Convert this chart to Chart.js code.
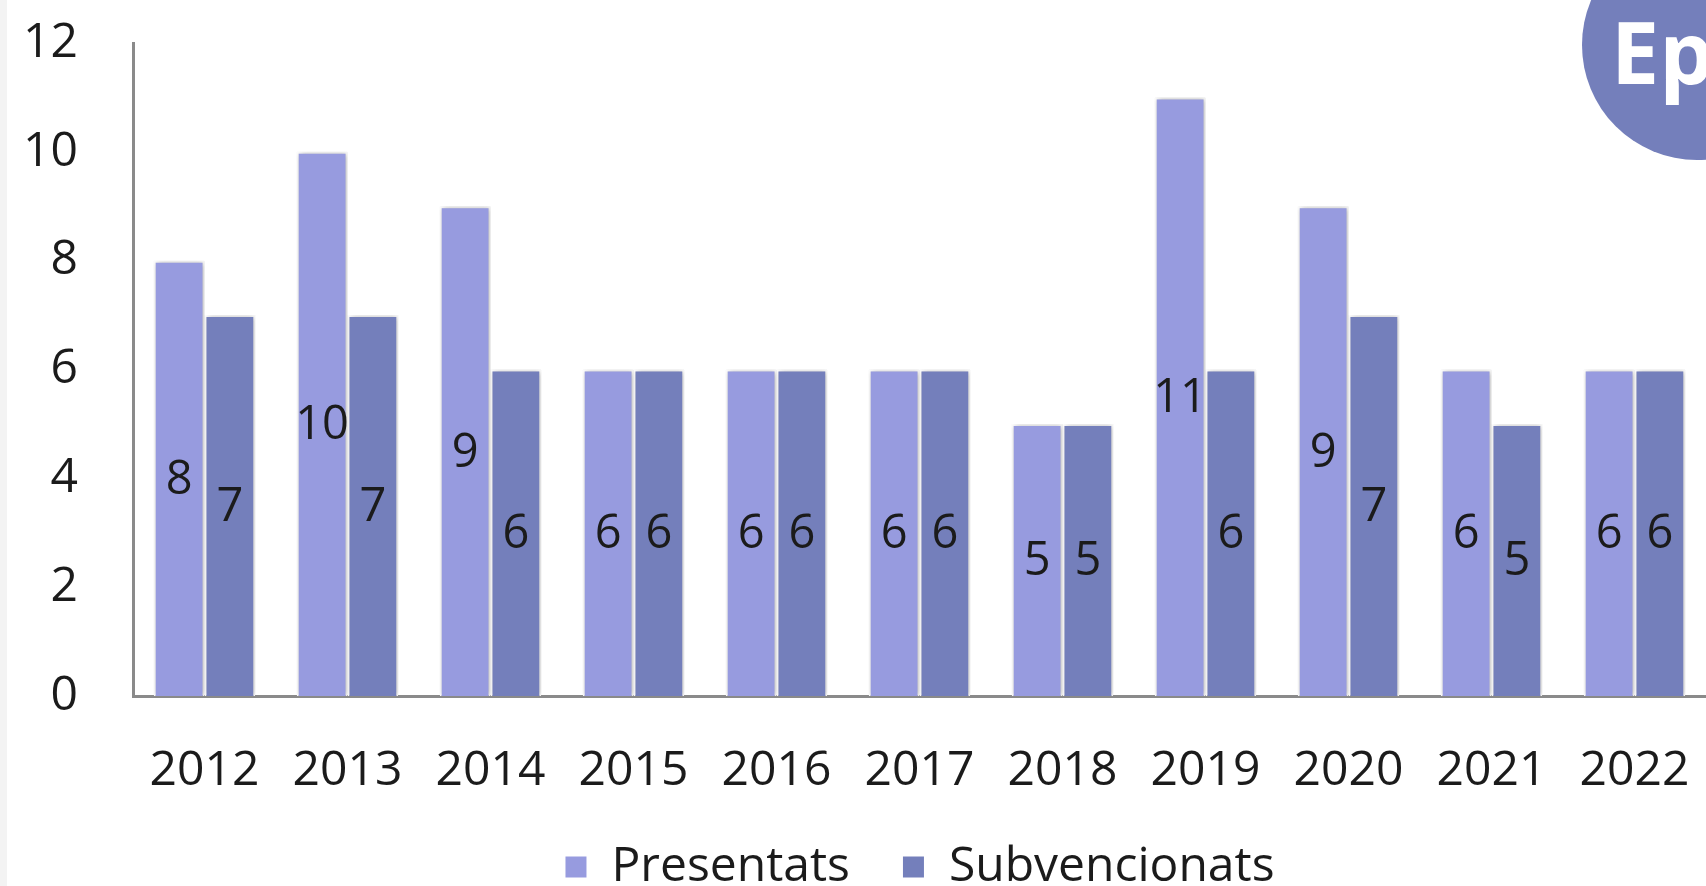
<!DOCTYPE html>
<html>
<head>
<meta charset="utf-8">
<script src="https://cdn.jsdelivr.net/npm/chart.js@4.4.0/dist/chart.umd.min.js"></script>
<style>
  html, body { margin: 0; padding: 0; background: #fff; }
  #wrap { width: 1706px; height: 886px; position: relative; }
</style>
</head>
<body>
<div id="wrap"><canvas id="barChart"></canvas></div>
<script>
var years = ["2012", "2013", "2014", "2015", "2016", "2017", "2018", "2019", "2020", "2021", "2022"];
var presentats = [8, 10, 9, 6, 6, 6, 5, 11, 9, 6, 6];
var subvencionats = [7, 7, 6, 6, 6, 6, 5, 6, 7, 5, 6];
var yTicks = [0, 2, 4, 6, 8, 10, 12];

var lightColor = 'rgb(151, 155, 223)';
var darkColor = 'rgb(116, 127, 187)';
var FONT = "'Open Sans', 'Liberation Sans', sans-serif";

// soft shadow behind bars, like the office chart
var barShadow = {
  id: 'barShadow',
  beforeDatasetsDraw: function (chart) {
    var ctx = chart.ctx;
    ctx.save();
    ctx.shadowColor = 'rgba(0,0,0,0.28)';
    ctx.shadowBlur = 6;
    ctx.shadowOffsetX = 1;
  },
  afterDatasetsDraw: function (chart) {
    chart.ctx.restore();
  }
};

// value labels centred inside each bar
var centreLabels = {
  id: 'centreLabels',
  afterDatasetsDraw: function (chart) {
    var ctx = chart.ctx;
    ctx.save();
    ctx.font = '47px ' + FONT;
    ctx.fillStyle = '#1b1b1b';
    ctx.textAlign = 'center';
    ctx.textBaseline = 'middle';
    chart.data.datasets.forEach(function (ds, i) {
      chart.getDatasetMeta(i).data.forEach(function (bar, j) {
        ctx.fillText(String(ds.data[j]), bar.x, (bar.y + bar.base) / 2 + 2);
      });
    });
    ctx.restore();
  }
};

// left grey strip and the round logo in the corner
var decor = {
  id: 'decor',
  beforeDraw: function (chart) {
    var ctx = chart.ctx;
    ctx.save();
    ctx.fillStyle = '#f3f3f3';
    ctx.fillRect(0, 0, 7, chart.height);
    ctx.restore();
  },
  afterDraw: function (chart) {
    var ctx = chart.ctx;
    ctx.save();
    ctx.fillStyle = darkColor;
    ctx.beginPath();
    ctx.arc(1697, 45, 115, 0, Math.PI * 2);
    ctx.fill();
    ctx.fillStyle = '#fff';
    ctx.font = 'bold 86px ' + FONT;
    ctx.textAlign = 'left';
    ctx.textBaseline = 'alphabetic';
    ctx.fillText('Ep', 1611, 84);
    ctx.restore();
  }
};

var ctx = document.getElementById('barChart');
new Chart(ctx, {
  type: 'bar',
  data: {
    labels: years,
    datasets: [{
      label: 'Presentats',
      data: presentats,
      backgroundColor: lightColor,
      borderColor: '#ffffff',
      borderWidth: 2,
      borderSkipped: 'bottom'
    }, {
      label: 'Subvencionats',
      data: subvencionats,
      backgroundColor: darkColor,
      borderColor: '#ffffff',
      borderWidth: 2,
      borderSkipped: 'bottom'
    }]
  },
  options: {
    responsive: true,
    maintainAspectRatio: false,
    animation: false,
    datasets: {
      bar: { categoryPercentage: 0.71, barPercentage: 1.0 }
    },
    layout: { padding: { top: 43, bottom: -15, left: 0, right: 0 } },
    plugins: {
      tooltip: { enabled: false },
      legend: {
        position: 'bottom',
        fullSize: false,
        labels: {
          font: { family: FONT, size: 48 },
          color: '#1b1b1b',
          boxWidth: 23,
          boxHeight: 23,
          padding: 52
        }
      }
    },
    scales: {
      x: {
        grid: { display: false, drawTicks: false },
        border: { display: true, color: '#8a8a8a', width: 3 },
        ticks: {
          font: { family: FONT, size: 48 },
          color: '#1b1b1b',
          padding: 47,
          maxRotation: 0,
          autoSkip: false
        },
        afterFit: function (scale) {
          scale.height = 95;
          scale.paddingLeft = 0;
          scale.paddingRight = 0;
        }
      },
      y: {
        min: 0,
        max: 12,
        grid: { display: false, drawTicks: false },
        border: { display: true, color: '#8a8a8a', width: 3 },
        afterBuildTicks: function (scale) {
          scale.ticks = yTicks.map(function (v) { return { value: v }; });
        },
        ticks: {
          font: { family: FONT, size: 48 },
          color: '#1b1b1b',
          padding: 55
        },
        afterFit: function (scale) {
          scale.width = 133;
          scale.paddingTop = 0;
          scale.paddingBottom = 0;
        }
      }
    }
  },
  plugins: [decor, barShadow, centreLabels]
});
</script>
</body>
</html>
